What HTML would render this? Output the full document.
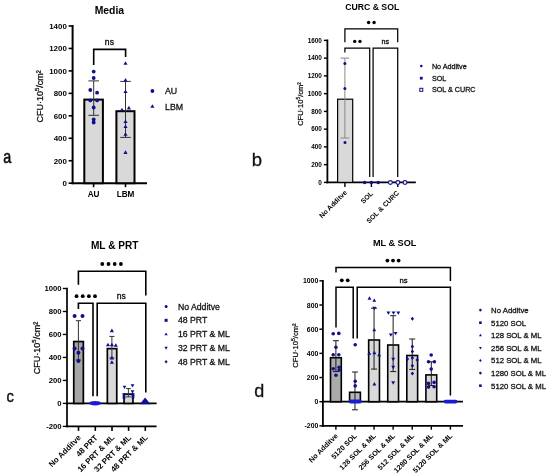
<!DOCTYPE html>
<html><head><meta charset="utf-8"><style>
html,body{margin:0;padding:0;background:#fff;}
svg{display:block;filter:blur(0.35px);}
text{font-family:"Liberation Sans",sans-serif;}
text.r{stroke:#111;stroke-width:0.28px;}
</style></head><body>
<svg width="550" height="476" viewBox="0 0 550 476">
<rect width="550" height="476" fill="#fff"/>
<text x="109.40" y="13.90" font-size="10.4" text-anchor="middle" font-weight="bold" fill="#000">Media</text>
<line x1="72.60" y1="24.98" x2="72.60" y2="184.20" stroke="#000" stroke-width="2"/>
<line x1="68.60" y1="183.20" x2="72.60" y2="183.20" stroke="#000" stroke-width="1.6"/>
<text x="66.80" y="186.04" font-size="7.9" text-anchor="end" font-weight="bold" fill="#000">0</text>
<line x1="68.60" y1="160.74" x2="72.60" y2="160.74" stroke="#000" stroke-width="1.6"/>
<text x="66.80" y="163.58" font-size="7.9" text-anchor="end" font-weight="bold" fill="#000">200</text>
<line x1="68.60" y1="138.28" x2="72.60" y2="138.28" stroke="#000" stroke-width="1.6"/>
<text x="66.80" y="141.12" font-size="7.9" text-anchor="end" font-weight="bold" fill="#000">400</text>
<line x1="68.60" y1="115.82" x2="72.60" y2="115.82" stroke="#000" stroke-width="1.6"/>
<text x="66.80" y="118.66" font-size="7.9" text-anchor="end" font-weight="bold" fill="#000">600</text>
<line x1="68.60" y1="93.36" x2="72.60" y2="93.36" stroke="#000" stroke-width="1.6"/>
<text x="66.80" y="96.20" font-size="7.9" text-anchor="end" font-weight="bold" fill="#000">800</text>
<line x1="68.60" y1="70.90" x2="72.60" y2="70.90" stroke="#000" stroke-width="1.6"/>
<text x="66.80" y="73.74" font-size="7.9" text-anchor="end" font-weight="bold" fill="#000">1000</text>
<line x1="68.60" y1="48.44" x2="72.60" y2="48.44" stroke="#000" stroke-width="1.6"/>
<text x="66.80" y="51.28" font-size="7.9" text-anchor="end" font-weight="bold" fill="#000">1200</text>
<line x1="68.60" y1="25.98" x2="72.60" y2="25.98" stroke="#000" stroke-width="1.6"/>
<text x="66.80" y="28.82" font-size="7.9" text-anchor="end" font-weight="bold" fill="#000">1400</text>
<line x1="71.60" y1="183.20" x2="147.00" y2="183.20" stroke="#000" stroke-width="2"/>
<line x1="93.60" y1="183.20" x2="93.60" y2="187.20" stroke="#000" stroke-width="1.6"/>
<line x1="125.50" y1="183.20" x2="125.50" y2="187.20" stroke="#000" stroke-width="1.6"/>
<text x="93.60" y="197.00" font-size="8.2" text-anchor="middle" font-weight="bold" fill="#000">AU</text>
<text x="125.50" y="197.00" font-size="8.2" text-anchor="middle" font-weight="bold" fill="#000">LBM</text>
<rect x="84.30" y="99.60" width="18.60" height="83.60" fill="#d9d9d9" stroke="#000" stroke-width="2"/>
<rect x="116.40" y="111.20" width="18.10" height="72.00" fill="#d9d9d9" stroke="#000" stroke-width="2"/>
<line x1="93.70" y1="80.90" x2="93.70" y2="115.30" stroke="#333" stroke-width="1"/>
<line x1="88.40" y1="80.90" x2="99.00" y2="80.90" stroke="#333" stroke-width="1"/>
<line x1="88.40" y1="115.30" x2="99.00" y2="115.30" stroke="#333" stroke-width="1"/>
<line x1="125.50" y1="81.40" x2="125.50" y2="137.40" stroke="#333" stroke-width="1"/>
<line x1="120.20" y1="81.40" x2="130.80" y2="81.40" stroke="#333" stroke-width="1"/>
<line x1="120.20" y1="137.40" x2="130.80" y2="137.40" stroke="#333" stroke-width="1"/>
<circle cx="93.70" cy="71.60" r="1.90" fill="#10108e"/>
<circle cx="93.70" cy="78.00" r="1.90" fill="#10108e"/>
<circle cx="90.30" cy="90.00" r="1.90" fill="#10108e"/>
<circle cx="97.10" cy="92.70" r="1.90" fill="#10108e"/>
<circle cx="90.30" cy="100.40" r="1.90" fill="#10108e"/>
<circle cx="97.10" cy="100.40" r="1.90" fill="#10108e"/>
<circle cx="93.70" cy="107.50" r="1.90" fill="#10108e"/>
<circle cx="93.70" cy="119.50" r="1.90" fill="#10108e"/>
<circle cx="93.70" cy="122.50" r="1.90" fill="#10108e"/>
<polygon points="125.50,61.23 127.59,64.84 123.41,64.84" fill="#10108e"/>
<polygon points="125.50,78.03 127.59,81.64 123.41,81.64" fill="#10108e"/>
<polygon points="125.50,89.43 127.59,93.04 123.41,93.04" fill="#10108e"/>
<polygon points="122.00,107.63 124.09,111.24 119.91,111.24" fill="#10108e"/>
<polygon points="128.90,105.83 130.99,109.44 126.81,109.44" fill="#10108e"/>
<polygon points="125.50,119.43 127.59,123.04 123.41,123.04" fill="#10108e"/>
<polygon points="125.50,124.43 127.59,128.04 123.41,128.04" fill="#10108e"/>
<polygon points="125.50,132.13 127.59,135.74 123.41,135.74" fill="#10108e"/>
<polygon points="125.50,150.33 127.59,153.94 123.41,153.94" fill="#10108e"/>
<polyline points="93.70,65.00 93.70,49.40 125.60,49.40 125.60,57.00" fill="none" stroke="#000" stroke-width="1.6"/>
<text x="109.40" y="45.00" font-size="8.6" text-anchor="middle" class="r" fill="#000">ns</text>
<circle cx="152.40" cy="91.00" r="1.90" fill="#10108e"/>
<text x="165.00" y="94.20" font-size="8.8" text-anchor="start" class="r" fill="#111">AU</text>
<polygon points="152.40,104.23 154.49,107.84 150.31,107.84" fill="#10108e"/>
<text x="165.00" y="109.50" font-size="8.8" text-anchor="start" class="r" fill="#111">LBM</text>
<text class="r" x="0" y="0" font-size="9" text-anchor="middle" fill="#111" transform="translate(42.7 96.3) rotate(-90)">CFU·10<tspan font-size="6" dy="-3.5">5</tspan><tspan dy="3.5">/cm²</tspan></text>
<text x="372.20" y="10.30" font-size="8.7" text-anchor="middle" font-weight="bold" fill="#000">CURC &amp; SOL</text>
<line x1="327.40" y1="39.50" x2="327.40" y2="183.30" stroke="#000" stroke-width="1.8"/>
<line x1="323.90" y1="182.40" x2="327.40" y2="182.40" stroke="#000" stroke-width="1.4400000000000002"/>
<text x="321.90" y="184.70" font-size="6.4" text-anchor="end" font-weight="bold" fill="#000">0</text>
<line x1="323.90" y1="164.65" x2="327.40" y2="164.65" stroke="#000" stroke-width="1.4400000000000002"/>
<text x="321.90" y="166.95" font-size="6.4" text-anchor="end" font-weight="bold" fill="#000">200</text>
<line x1="323.90" y1="146.90" x2="327.40" y2="146.90" stroke="#000" stroke-width="1.4400000000000002"/>
<text x="321.90" y="149.20" font-size="6.4" text-anchor="end" font-weight="bold" fill="#000">400</text>
<line x1="323.90" y1="129.15" x2="327.40" y2="129.15" stroke="#000" stroke-width="1.4400000000000002"/>
<text x="321.90" y="131.45" font-size="6.4" text-anchor="end" font-weight="bold" fill="#000">600</text>
<line x1="323.90" y1="111.40" x2="327.40" y2="111.40" stroke="#000" stroke-width="1.4400000000000002"/>
<text x="321.90" y="113.70" font-size="6.4" text-anchor="end" font-weight="bold" fill="#000">800</text>
<line x1="323.90" y1="93.65" x2="327.40" y2="93.65" stroke="#000" stroke-width="1.4400000000000002"/>
<text x="321.90" y="95.95" font-size="6.4" text-anchor="end" font-weight="bold" fill="#000">1000</text>
<line x1="323.90" y1="75.90" x2="327.40" y2="75.90" stroke="#000" stroke-width="1.4400000000000002"/>
<text x="321.90" y="78.20" font-size="6.4" text-anchor="end" font-weight="bold" fill="#000">1200</text>
<line x1="323.90" y1="58.15" x2="327.40" y2="58.15" stroke="#000" stroke-width="1.4400000000000002"/>
<text x="321.90" y="60.45" font-size="6.4" text-anchor="end" font-weight="bold" fill="#000">1400</text>
<line x1="323.90" y1="40.40" x2="327.40" y2="40.40" stroke="#000" stroke-width="1.4400000000000002"/>
<text x="321.90" y="42.70" font-size="6.4" text-anchor="end" font-weight="bold" fill="#000">1600</text>
<line x1="326.50" y1="182.40" x2="415.80" y2="182.40" stroke="#000" stroke-width="1.8"/>
<line x1="344.90" y1="182.40" x2="344.90" y2="187.00" stroke="#000" stroke-width="1.4"/>
<line x1="371.40" y1="182.40" x2="371.40" y2="187.00" stroke="#000" stroke-width="1.4"/>
<line x1="397.80" y1="182.40" x2="397.80" y2="187.00" stroke="#000" stroke-width="1.4"/>
<rect x="337.60" y="99.20" width="15.10" height="83.20" fill="#d9d9d9" stroke="#000" stroke-width="1.2"/>
<line x1="344.90" y1="58.10" x2="344.90" y2="138.00" stroke="#888" stroke-width="1"/>
<line x1="340.50" y1="58.10" x2="349.30" y2="58.10" stroke="#888" stroke-width="1"/>
<line x1="340.50" y1="138.00" x2="349.30" y2="138.00" stroke="#888" stroke-width="1"/>
<circle cx="344.90" cy="63.60" r="1.50" fill="#10108e"/>
<circle cx="344.90" cy="88.40" r="1.50" fill="#10108e"/>
<circle cx="345.00" cy="142.40" r="1.50" fill="#10108e"/>
<polyline points="344.90,42.20 344.90,28.80 397.70,28.80 397.70,42.20" fill="none" stroke="#000" stroke-width="1.25"/>
<circle cx="368.60" cy="22.50" r="1.70" fill="#000"/>
<circle cx="374.10" cy="22.50" r="1.70" fill="#000"/>
<polyline points="344.90,52.40 344.90,48.00 369.70,48.00 369.70,177.00" fill="none" stroke="#000" stroke-width="1.25"/>
<polyline points="373.10,177.00 373.10,48.00 397.70,48.00 397.70,177.00" fill="none" stroke="#000" stroke-width="1.25"/>
<circle cx="354.70" cy="41.40" r="1.70" fill="#000"/>
<circle cx="360.00" cy="41.40" r="1.70" fill="#000"/>
<text x="385.40" y="43.60" font-size="7.2" text-anchor="middle" class="r" fill="#000">ns</text>
<circle cx="364.60" cy="182.50" r="1.80" fill="#10108e"/>
<circle cx="371.40" cy="182.50" r="1.80" fill="#10108e"/>
<circle cx="378.20" cy="182.50" r="1.80" fill="#10108e"/>
<circle cx="390.40" cy="182.5" r="1.9" fill="#fff" stroke="#10108e" stroke-width="1.1"/>
<circle cx="397.90" cy="182.5" r="1.9" fill="#fff" stroke="#10108e" stroke-width="1.1"/>
<circle cx="405.00" cy="182.5" r="1.9" fill="#fff" stroke="#10108e" stroke-width="1.1"/>
<circle cx="421.30" cy="66.00" r="1.30" fill="#10108e"/>
<text x="431.90" y="68.60" font-size="7.2" text-anchor="start" class="r" fill="#111">No Additve</text>
<rect x="419.90" y="76.80" width="2.80" height="2.80" fill="#10108e"/>
<text x="431.90" y="80.80" font-size="7.2" text-anchor="start" class="r" fill="#111">SOL</text>
<rect x="419.80" y="88.30" width="3.00" height="3.00" fill="none" stroke="#10108e" stroke-width="1"/>
<text x="431.90" y="92.40" font-size="7.2" text-anchor="start" class="r" fill="#111">SOL &amp; CURC</text>
<text class="r" x="0" y="0" font-size="7.5" text-anchor="middle" fill="#111" transform="translate(303.2 104) rotate(-90)">CFU·10<tspan font-size="5" dy="-3">5</tspan><tspan dy="3">/cm²</tspan></text>
<text x="347.50" y="193.00" font-size="6.9" text-anchor="end" font-weight="bold" fill="#000" transform="rotate(-45 347.50 193.00)">No Additve</text>
<text x="373.50" y="194.00" font-size="6.9" text-anchor="end" font-weight="bold" fill="#000" transform="rotate(-45 373.50 194.00)">SOL</text>
<text x="399.50" y="193.50" font-size="6.9" text-anchor="end" font-weight="bold" fill="#000" transform="rotate(-45 399.50 193.50)">SOL &amp; CURC</text>
<text x="114.70" y="249.00" font-size="10.1" text-anchor="middle" font-weight="bold" fill="#000">ML &amp; PRT</text>
<line x1="67.00" y1="287.65" x2="67.00" y2="427.23" stroke="#000" stroke-width="1.7"/>
<line x1="62.80" y1="426.38" x2="67.00" y2="426.38" stroke="#000" stroke-width="1.36"/>
<text x="61.60" y="429.15" font-size="7.7" text-anchor="end" font-weight="bold" fill="#000">-200</text>
<line x1="62.80" y1="403.40" x2="67.00" y2="403.40" stroke="#000" stroke-width="1.36"/>
<text x="61.60" y="406.17" font-size="7.7" text-anchor="end" font-weight="bold" fill="#000">0</text>
<line x1="62.80" y1="380.42" x2="67.00" y2="380.42" stroke="#000" stroke-width="1.36"/>
<text x="61.60" y="383.19" font-size="7.7" text-anchor="end" font-weight="bold" fill="#000">200</text>
<line x1="62.80" y1="357.44" x2="67.00" y2="357.44" stroke="#000" stroke-width="1.36"/>
<text x="61.60" y="360.21" font-size="7.7" text-anchor="end" font-weight="bold" fill="#000">400</text>
<line x1="62.80" y1="334.46" x2="67.00" y2="334.46" stroke="#000" stroke-width="1.36"/>
<text x="61.60" y="337.23" font-size="7.7" text-anchor="end" font-weight="bold" fill="#000">600</text>
<line x1="62.80" y1="311.48" x2="67.00" y2="311.48" stroke="#000" stroke-width="1.36"/>
<text x="61.60" y="314.25" font-size="7.7" text-anchor="end" font-weight="bold" fill="#000">800</text>
<line x1="62.80" y1="288.50" x2="67.00" y2="288.50" stroke="#000" stroke-width="1.36"/>
<text x="61.60" y="291.27" font-size="7.7" text-anchor="end" font-weight="bold" fill="#000">1000</text>
<line x1="66.20" y1="403.40" x2="156.60" y2="403.40" stroke="#000" stroke-width="1.7"/>
<line x1="66.20" y1="426.38" x2="156.60" y2="426.38" stroke="#000" stroke-width="1.7"/>
<line x1="78.50" y1="426.38" x2="78.50" y2="430.88" stroke="#000" stroke-width="1.6"/>
<line x1="95.30" y1="426.38" x2="95.30" y2="430.88" stroke="#000" stroke-width="1.6"/>
<line x1="112.00" y1="426.38" x2="112.00" y2="430.88" stroke="#000" stroke-width="1.6"/>
<line x1="128.60" y1="426.38" x2="128.60" y2="430.88" stroke="#000" stroke-width="1.6"/>
<line x1="145.30" y1="426.38" x2="145.30" y2="430.88" stroke="#000" stroke-width="1.6"/>
<rect x="73.75" y="341.55" width="9.60" height="61.85" fill="#a6a6a6" stroke="#000" stroke-width="1.7"/>
<rect x="107.35" y="348.65" width="9.40" height="54.75" fill="#d9d9d9" stroke="#000" stroke-width="1.7"/>
<rect x="124.05" y="394.15" width="8.90" height="9.25" fill="#d9d9d9" stroke="#000" stroke-width="1.7"/>
<line x1="78.40" y1="320.70" x2="78.40" y2="360.00" stroke="#333" stroke-width="1"/>
<line x1="75.80" y1="320.70" x2="81.00" y2="320.70" stroke="#333" stroke-width="1"/>
<line x1="75.80" y1="360.00" x2="81.00" y2="360.00" stroke="#333" stroke-width="1"/>
<line x1="111.90" y1="336.40" x2="111.90" y2="358.00" stroke="#333" stroke-width="1"/>
<line x1="109.30" y1="336.40" x2="114.50" y2="336.40" stroke="#333" stroke-width="1"/>
<line x1="109.30" y1="358.00" x2="114.50" y2="358.00" stroke="#333" stroke-width="1"/>
<line x1="128.40" y1="388.60" x2="128.40" y2="396.80" stroke="#333" stroke-width="1"/>
<line x1="125.90" y1="388.60" x2="130.90" y2="388.60" stroke="#333" stroke-width="1"/>
<line x1="125.90" y1="396.80" x2="130.90" y2="396.80" stroke="#333" stroke-width="1"/>
<polyline points="78.40,284.70 78.40,271.20 145.80,271.20 145.80,295.60" fill="none" stroke="#000" stroke-width="1.6"/>
<circle cx="102.30" cy="264.00" r="1.90" fill="#000"/>
<circle cx="108.50" cy="264.00" r="1.90" fill="#000"/>
<circle cx="114.70" cy="264.00" r="1.90" fill="#000"/>
<circle cx="120.90" cy="264.00" r="1.90" fill="#000"/>
<polyline points="78.40,309.00 78.40,303.30 93.00,303.30 93.00,396.20" fill="none" stroke="#000" stroke-width="1.6"/>
<polyline points="97.20,396.20 97.20,303.30 145.80,303.30 145.80,392.50" fill="none" stroke="#000" stroke-width="1.6"/>
<circle cx="76.57" cy="296.20" r="1.90" fill="#000"/>
<circle cx="82.72" cy="296.20" r="1.90" fill="#000"/>
<circle cx="88.87" cy="296.20" r="1.90" fill="#000"/>
<circle cx="95.02" cy="296.20" r="1.90" fill="#000"/>
<text x="121.20" y="298.60" font-size="8.6" text-anchor="middle" class="r" fill="#000">ns</text>
<circle cx="74.60" cy="315.90" r="2.00" fill="#10108e"/>
<circle cx="82.50" cy="315.90" r="2.00" fill="#10108e"/>
<circle cx="74.60" cy="348.50" r="2.00" fill="#10108e"/>
<circle cx="82.50" cy="348.50" r="2.00" fill="#10108e"/>
<circle cx="78.40" cy="352.80" r="2.00" fill="#10108e"/>
<circle cx="78.40" cy="361.00" r="2.00" fill="#10108e"/>
<ellipse cx="95.2" cy="403.2" rx="6.0" ry="2.3" fill="#1c1cd0"/>
<polygon points="111.90,328.53 113.99,332.14 109.81,332.14" fill="#10108e"/>
<polygon points="108.00,342.73 110.09,346.34 105.91,346.34" fill="#10108e"/>
<polygon points="111.90,342.73 113.99,346.34 109.81,346.34" fill="#10108e"/>
<polygon points="115.80,343.13 117.89,346.74 113.71,346.74" fill="#10108e"/>
<polygon points="111.90,355.83 113.99,359.44 109.81,359.44" fill="#10108e"/>
<polygon points="111.90,360.23 113.99,363.84 109.81,363.84" fill="#10108e"/>
<polygon points="124.50,389.04 126.37,385.81 122.63,385.81" fill="#10108e"/>
<polygon points="132.50,387.54 134.37,384.31 130.63,384.31" fill="#10108e"/>
<polygon points="132.50,393.44 134.37,390.21 130.63,390.21" fill="#10108e"/>
<rect x="122.60" y="393.10" width="2.80" height="2.80" fill="#10108e"/>
<rect x="131.60" y="393.10" width="2.80" height="2.80" fill="#10108e"/>
<rect x="122.60" y="396.10" width="2.80" height="2.80" fill="#10108e"/>
<rect x="131.60" y="395.60" width="2.80" height="2.80" fill="#10108e"/>
<polygon points="139.8,404.2 145.1,397.6 150.6,404.2" fill="#10108e"/>
<circle cx="166.10" cy="306.50" r="1.50" fill="#10108e"/>
<text x="177.90" y="309.60" font-size="8.7" text-anchor="start" class="r" fill="#111">No Additve</text>
<rect x="164.60" y="318.83" width="3.00" height="3.00" fill="#10108e"/>
<text x="177.90" y="323.43" font-size="8.7" text-anchor="start" class="r" fill="#111">48 PRT</text>
<polygon points="166.10,332.45 167.75,335.30 164.45,335.30" fill="#10108e"/>
<text x="177.90" y="337.26" font-size="8.7" text-anchor="start" class="r" fill="#111">16 PRT &amp; ML</text>
<polygon points="166.10,349.70 167.75,346.85 164.45,346.85" fill="#10108e"/>
<text x="177.90" y="351.09" font-size="8.7" text-anchor="start" class="r" fill="#111">32 PRT &amp; ML</text>
<polygon points="166.10,360.02 167.60,361.82 166.10,363.62 164.60,361.82" fill="#10108e"/>
<text x="177.90" y="364.92" font-size="8.7" text-anchor="start" class="r" fill="#111">48 PRT &amp; ML</text>
<text class="r" x="0" y="0" font-size="9" text-anchor="middle" fill="#111" transform="translate(39.6 348) rotate(-90)">CFU·10<tspan font-size="6" dy="-3.5">5</tspan><tspan dy="3.5">/cm²</tspan></text>
<text x="81.50" y="438.20" font-size="7.95" text-anchor="end" font-weight="bold" fill="#000" transform="rotate(-45 81.50 438.20)">No Additve</text>
<text x="98.30" y="438.20" font-size="7.95" text-anchor="end" font-weight="bold" fill="#000" transform="rotate(-45 98.30 438.20)">48 PRT</text>
<text x="115.00" y="438.20" font-size="7.95" text-anchor="end" font-weight="bold" fill="#000" transform="rotate(-45 115.00 438.20)">16 PRT &amp; ML</text>
<text x="131.60" y="438.20" font-size="7.95" text-anchor="end" font-weight="bold" fill="#000" transform="rotate(-45 131.60 438.20)">32 PRT &amp; ML</text>
<text x="148.30" y="438.20" font-size="7.95" text-anchor="end" font-weight="bold" fill="#000" transform="rotate(-45 148.30 438.20)">48 PRT &amp; ML</text>
<text x="394.60" y="246.30" font-size="9.15" text-anchor="middle" font-weight="bold" fill="#000">ML &amp; SOL</text>
<line x1="322.90" y1="279.95" x2="322.90" y2="426.77" stroke="#000" stroke-width="1.8"/>
<line x1="319.40" y1="425.87" x2="322.90" y2="425.87" stroke="#000" stroke-width="1.4400000000000002"/>
<text x="318.30" y="428.35" font-size="6.9" text-anchor="end" font-weight="bold" fill="#000">-200</text>
<line x1="319.40" y1="401.70" x2="322.90" y2="401.70" stroke="#000" stroke-width="1.4400000000000002"/>
<text x="318.30" y="404.18" font-size="6.9" text-anchor="end" font-weight="bold" fill="#000">0</text>
<line x1="319.40" y1="377.53" x2="322.90" y2="377.53" stroke="#000" stroke-width="1.4400000000000002"/>
<text x="318.30" y="380.01" font-size="6.9" text-anchor="end" font-weight="bold" fill="#000">200</text>
<line x1="319.40" y1="353.36" x2="322.90" y2="353.36" stroke="#000" stroke-width="1.4400000000000002"/>
<text x="318.30" y="355.84" font-size="6.9" text-anchor="end" font-weight="bold" fill="#000">400</text>
<line x1="319.40" y1="329.19" x2="322.90" y2="329.19" stroke="#000" stroke-width="1.4400000000000002"/>
<text x="318.30" y="331.67" font-size="6.9" text-anchor="end" font-weight="bold" fill="#000">600</text>
<line x1="319.40" y1="305.02" x2="322.90" y2="305.02" stroke="#000" stroke-width="1.4400000000000002"/>
<text x="318.30" y="307.50" font-size="6.9" text-anchor="end" font-weight="bold" fill="#000">800</text>
<line x1="319.40" y1="280.85" x2="322.90" y2="280.85" stroke="#000" stroke-width="1.4400000000000002"/>
<text x="318.30" y="283.33" font-size="6.9" text-anchor="end" font-weight="bold" fill="#000">1000</text>
<line x1="322.00" y1="401.70" x2="463.00" y2="401.70" stroke="#000" stroke-width="1.8"/>
<line x1="322.00" y1="425.87" x2="463.00" y2="425.87" stroke="#000" stroke-width="1.8"/>
<line x1="335.90" y1="425.87" x2="335.90" y2="429.67" stroke="#000" stroke-width="1.4"/>
<line x1="354.98" y1="425.87" x2="354.98" y2="429.67" stroke="#000" stroke-width="1.4"/>
<line x1="374.06" y1="425.87" x2="374.06" y2="429.67" stroke="#000" stroke-width="1.4"/>
<line x1="393.14" y1="425.87" x2="393.14" y2="429.67" stroke="#000" stroke-width="1.4"/>
<line x1="412.22" y1="425.87" x2="412.22" y2="429.67" stroke="#000" stroke-width="1.4"/>
<line x1="431.30" y1="425.87" x2="431.30" y2="429.67" stroke="#000" stroke-width="1.4"/>
<line x1="450.38" y1="425.87" x2="450.38" y2="429.67" stroke="#000" stroke-width="1.4"/>
<rect x="330.50" y="357.70" width="10.80" height="44.00" fill="#ababab" stroke="#000" stroke-width="1.6"/>
<rect x="349.58" y="392.30" width="10.80" height="9.40" fill="#b8b8b8" stroke="#000" stroke-width="1.6"/>
<rect x="368.66" y="340.00" width="10.80" height="61.70" fill="#d9d9d9" stroke="#000" stroke-width="1.6"/>
<rect x="387.74" y="345.00" width="10.80" height="56.70" fill="#d9d9d9" stroke="#000" stroke-width="1.6"/>
<rect x="406.82" y="355.50" width="10.80" height="46.20" fill="#d9d9d9" stroke="#000" stroke-width="1.6"/>
<rect x="425.90" y="374.90" width="10.80" height="26.80" fill="#d9d9d9" stroke="#000" stroke-width="1.6"/>
<line x1="335.90" y1="340.70" x2="335.90" y2="371.60" stroke="#1a1a1a" stroke-width="1.0"/>
<line x1="332.90" y1="340.70" x2="338.90" y2="340.70" stroke="#1a1a1a" stroke-width="1.0"/>
<line x1="332.90" y1="371.60" x2="338.90" y2="371.60" stroke="#1a1a1a" stroke-width="1.0"/>
<line x1="354.98" y1="372.00" x2="354.98" y2="409.80" stroke="#1a1a1a" stroke-width="1.0"/>
<line x1="351.98" y1="372.00" x2="357.98" y2="372.00" stroke="#1a1a1a" stroke-width="1.0"/>
<line x1="351.98" y1="409.80" x2="357.98" y2="409.80" stroke="#1a1a1a" stroke-width="1.0"/>
<line x1="374.06" y1="308.20" x2="374.06" y2="369.10" stroke="#1a1a1a" stroke-width="1.0"/>
<line x1="371.06" y1="308.20" x2="377.06" y2="308.20" stroke="#1a1a1a" stroke-width="1.0"/>
<line x1="371.06" y1="369.10" x2="377.06" y2="369.10" stroke="#1a1a1a" stroke-width="1.0"/>
<line x1="393.14" y1="315.70" x2="393.14" y2="371.60" stroke="#1a1a1a" stroke-width="1.0"/>
<line x1="390.14" y1="315.70" x2="396.14" y2="315.70" stroke="#1a1a1a" stroke-width="1.0"/>
<line x1="390.14" y1="371.60" x2="396.14" y2="371.60" stroke="#1a1a1a" stroke-width="1.0"/>
<line x1="412.22" y1="339.00" x2="412.22" y2="369.40" stroke="#1a1a1a" stroke-width="1.0"/>
<line x1="409.22" y1="339.00" x2="415.22" y2="339.00" stroke="#1a1a1a" stroke-width="1.0"/>
<line x1="409.22" y1="369.40" x2="415.22" y2="369.40" stroke="#1a1a1a" stroke-width="1.0"/>
<line x1="431.30" y1="361.80" x2="431.30" y2="385.60" stroke="#1a1a1a" stroke-width="1.0"/>
<line x1="428.30" y1="361.80" x2="434.30" y2="361.80" stroke="#1a1a1a" stroke-width="1.0"/>
<line x1="428.30" y1="385.60" x2="434.30" y2="385.60" stroke="#1a1a1a" stroke-width="1.0"/>
<polyline points="336.00,272.40 336.00,267.50 450.40,267.50 450.40,281.00" fill="none" stroke="#000" stroke-width="1.5"/>
<circle cx="387.40" cy="260.60" r="1.90" fill="#000"/>
<circle cx="393.00" cy="260.60" r="1.90" fill="#000"/>
<circle cx="398.60" cy="260.60" r="1.90" fill="#000"/>
<polyline points="336.00,327.50 336.00,287.30 353.20,287.30 353.20,338.50" fill="none" stroke="#000" stroke-width="1.5"/>
<polyline points="357.20,338.50 357.20,287.30 450.40,287.30 450.40,395.60" fill="none" stroke="#000" stroke-width="1.5"/>
<circle cx="341.80" cy="280.30" r="1.90" fill="#000"/>
<circle cx="347.70" cy="280.30" r="1.90" fill="#000"/>
<text x="403.60" y="282.80" font-size="7.7" text-anchor="middle" class="r" fill="#000">ns</text>
<circle cx="333.20" cy="333.80" r="1.80" fill="#10108e"/>
<circle cx="338.80" cy="333.40" r="1.80" fill="#10108e"/>
<circle cx="335.90" cy="347.20" r="1.80" fill="#10108e"/>
<circle cx="333.20" cy="354.70" r="1.80" fill="#10108e"/>
<circle cx="338.80" cy="354.70" r="1.80" fill="#10108e"/>
<circle cx="333.20" cy="368.70" r="1.80" fill="#10108e"/>
<circle cx="339.10" cy="367.20" r="1.80" fill="#10108e"/>
<circle cx="339.10" cy="370.10" r="1.80" fill="#10108e"/>
<circle cx="335.90" cy="375.30" r="1.80" fill="#10108e"/>
<circle cx="355.20" cy="344.70" r="1.80" fill="#10108e"/>
<circle cx="355.20" cy="381.20" r="1.80" fill="#10108e"/>
<circle cx="355.20" cy="385.90" r="1.80" fill="#10108e"/>
<rect x="348.8" y="399.6" width="13.0" height="3.9" rx="1.9" fill="#1c1cd0"/>
<polygon points="369.50,296.35 371.48,299.77 367.52,299.77" fill="#10108e"/>
<polygon points="374.30,298.45 376.28,301.87 372.32,301.87" fill="#10108e"/>
<polygon points="374.30,327.95 376.28,331.37 372.32,331.37" fill="#10108e"/>
<polygon points="369.30,351.45 371.28,354.87 367.32,354.87" fill="#10108e"/>
<polygon points="374.40,350.85 376.38,354.27 372.42,354.27" fill="#10108e"/>
<polygon points="379.10,352.95 381.08,356.37 377.12,356.37" fill="#10108e"/>
<polygon points="374.40,382.05 376.38,385.47 372.42,385.47" fill="#10108e"/>
<polygon points="374.30,310.25 376.28,306.83 372.32,306.83" fill="#10108e"/>
<polygon points="388.40,314.85 390.38,311.43 386.42,311.43" fill="#10108e"/>
<polygon points="393.50,314.85 395.48,311.43 391.52,311.43" fill="#10108e"/>
<polygon points="398.30,314.85 400.28,311.43 396.32,311.43" fill="#10108e"/>
<polygon points="390.80,336.85 392.78,333.43 388.82,333.43" fill="#10108e"/>
<polygon points="395.60,335.35 397.58,331.93 393.62,331.93" fill="#10108e"/>
<polygon points="393.20,361.15 395.18,357.73 391.22,357.73" fill="#10108e"/>
<polygon points="393.20,369.25 395.18,365.83 391.22,365.83" fill="#10108e"/>
<polygon points="393.20,384.65 395.18,381.23 391.22,381.23" fill="#10108e"/>
<polygon points="412.40,316.76 414.10,318.80 412.40,320.84 410.70,318.80" fill="#10108e"/>
<polygon points="412.40,344.56 414.10,346.60 412.40,348.64 410.70,346.60" fill="#10108e"/>
<polygon points="412.40,349.46 414.10,351.50 412.40,353.54 410.70,351.50" fill="#10108e"/>
<polygon points="407.40,357.06 409.10,359.10 407.40,361.14 405.70,359.10" fill="#10108e"/>
<polygon points="412.40,355.86 414.10,357.90 412.40,359.94 410.70,357.90" fill="#10108e"/>
<polygon points="417.20,357.86 418.90,359.90 417.20,361.94 415.50,359.90" fill="#10108e"/>
<polygon points="412.40,363.66 414.10,365.70 412.40,367.74 410.70,365.70" fill="#10108e"/>
<polygon points="412.40,371.46 414.10,373.50 412.40,375.54 410.70,373.50" fill="#10108e"/>
<circle cx="431.20" cy="355.00" r="1.80" fill="#10108e"/>
<circle cx="428.50" cy="361.80" r="1.80" fill="#10108e"/>
<circle cx="434.40" cy="361.80" r="1.80" fill="#10108e"/>
<circle cx="431.20" cy="369.10" r="1.80" fill="#10108e"/>
<circle cx="428.50" cy="383.40" r="1.80" fill="#10108e"/>
<circle cx="434.10" cy="382.40" r="1.80" fill="#10108e"/>
<circle cx="428.50" cy="387.10" r="1.80" fill="#10108e"/>
<circle cx="434.10" cy="386.80" r="1.80" fill="#10108e"/>
<rect x="443.6" y="399.8" width="14.0" height="3.6" rx="1.8" fill="#1c1cd0"/>
<circle cx="480.40" cy="310.10" r="1.30" fill="#10108e"/>
<text x="491.10" y="312.90" font-size="7.75" text-anchor="start" class="r" fill="#111">No Additve</text>
<rect x="479.10" y="321.40" width="2.60" height="2.60" fill="#10108e"/>
<text x="491.10" y="325.50" font-size="7.75" text-anchor="start" class="r" fill="#111">5120 SOL</text>
<polygon points="480.40,333.82 481.83,336.29 478.97,336.29" fill="#10108e"/>
<text x="491.10" y="338.10" font-size="7.75" text-anchor="start" class="r" fill="#111">128 SOL &amp; ML</text>
<polygon points="480.40,349.38 481.83,346.91 478.97,346.91" fill="#10108e"/>
<text x="491.10" y="350.70" font-size="7.75" text-anchor="start" class="r" fill="#111">256 SOL &amp; ML</text>
<polygon points="480.40,358.94 481.70,360.50 480.40,362.06 479.10,360.50" fill="#10108e"/>
<text x="491.10" y="363.30" font-size="7.75" text-anchor="start" class="r" fill="#111">512 SOL &amp; ML</text>
<circle cx="480.40" cy="373.10" r="1.30" fill="#10108e"/>
<text x="491.10" y="375.90" font-size="7.75" text-anchor="start" class="r" fill="#111">1280 SOL &amp; ML</text>
<rect x="479.10" y="384.40" width="2.60" height="2.60" fill="#10108e"/>
<text x="491.10" y="388.50" font-size="7.75" text-anchor="start" class="r" fill="#111">5120 SOL &amp; ML</text>
<text class="r" x="0" y="0" font-size="7.6" text-anchor="middle" fill="#111" transform="translate(298.1 345.5) rotate(-90)">CFU·10<tspan font-size="5.2" dy="-3">5</tspan><tspan dy="3">/cm²</tspan></text>
<text x="338.30" y="436.30" font-size="7.2" text-anchor="end" font-weight="bold" fill="#000" transform="rotate(-45 338.30 436.30)">No Additve</text>
<text x="357.38" y="436.30" font-size="7.2" text-anchor="end" font-weight="bold" fill="#000" transform="rotate(-45 357.38 436.30)">5120 SOL</text>
<text x="376.46" y="436.30" font-size="7.2" text-anchor="end" font-weight="bold" fill="#000" transform="rotate(-45 376.46 436.30)">128 SOL &amp; ML</text>
<text x="395.54" y="436.30" font-size="7.2" text-anchor="end" font-weight="bold" fill="#000" transform="rotate(-45 395.54 436.30)">256 SOL &amp; ML</text>
<text x="414.62" y="436.30" font-size="7.2" text-anchor="end" font-weight="bold" fill="#000" transform="rotate(-45 414.62 436.30)">512 SOL &amp; ML</text>
<text x="433.70" y="436.30" font-size="7.2" text-anchor="end" font-weight="bold" fill="#000" transform="rotate(-45 433.70 436.30)">1280 SOL &amp; ML</text>
<text x="452.78" y="436.30" font-size="7.2" text-anchor="end" font-weight="bold" fill="#000" transform="rotate(-45 452.78 436.30)">5120 SOL &amp; ML</text>
<text x="0" y="0" font-size="18" fill="#111" stroke="#111" stroke-width="0.55" transform="translate(3.2 163.1) scale(0.8 1)">a</text>
<text x="251.8" y="166.0" font-size="18.5" fill="#111" stroke="#111" stroke-width="0.3">b</text>
<text x="0" y="0" font-size="16.2" fill="#111" stroke="#111" stroke-width="0.45" transform="translate(6.4 402.0) scale(0.9 1)">c</text>
<text x="254.2" y="396.8" font-size="18.0" fill="#111" stroke="#111" stroke-width="0.3">d</text>
</svg></body></html>
